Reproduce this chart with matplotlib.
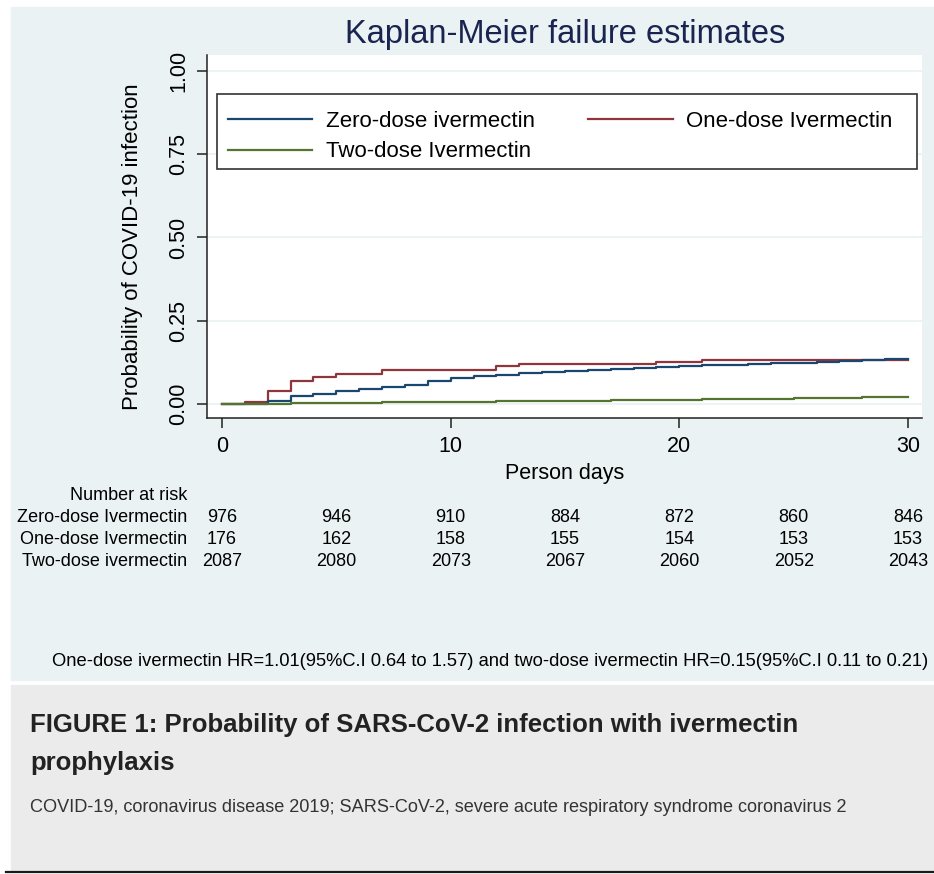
"""Kaplan-Meier failure estimates by ivermectin dose."""
import matplotlib
matplotlib.use("agg")
import matplotlib.pyplot as plt
from matplotlib.patches import Rectangle
from matplotlib.lines import Line2D
from matplotlib.transforms import blended_transform_factory

plt.rcParams["font.family"] = ["Liberation Sans", "DejaVu Sans"]

# cumulative failure probability, value held from day d to d+1
days = list(range(31))
zero_dose = [0, 0, 0.008, 0.023, 0.031, 0.038, 0.045, 0.052, 0.057, 0.068,
             0.077, 0.083, 0.088, 0.092, 0.096, 0.099, 0.102, 0.104, 0.107,
             0.110, 0.113, 0.116, 0.118, 0.120, 0.122, 0.124, 0.127, 0.129,
             0.131, 0.134, 0.134]
one_dose = [0, 0.006, 0.040, 0.068, 0.080, 0.091, 0.091, 0.102, 0.102, 0.102,
            0.102, 0.102, 0.114, 0.119, 0.119, 0.119, 0.119, 0.119, 0.119,
            0.125, 0.125, 0.131, 0.131, 0.131, 0.131, 0.131, 0.131, 0.131,
            0.131, 0.131, 0.131]
two_dose = [0, 0, 0.001, 0.002, 0.003, 0.0035, 0.004, 0.005, 0.005, 0.006,
            0.007, 0.007, 0.008, 0.009, 0.009, 0.010, 0.010, 0.011, 0.012,
            0.013, 0.013, 0.014, 0.015, 0.015, 0.016, 0.017, 0.018, 0.019,
            0.020, 0.021, 0.022]

risk_days = [0, 5, 10, 15, 20, 25, 30]
risk_labels = ["Zero-dose Ivermectin", "One-dose Ivermectin", "Two-dose ivermectin"]
risk_zero = [976, 946, 910, 884, 872, 860, 846]
risk_one = [176, 162, 158, 155, 154, 153, 153]
risk_two = [2087, 2080, 2073, 2067, 2060, 2052, 2043]

hr_note = ("One-dose ivermectin HR=1.01(95%C.I 0.64 to 1.57) and two-dose "
           "ivermectin HR=0.15(95%C.I 0.11 to 0.21)")
caption = ["FIGURE 1: Probability of SARS-CoV-2 infection with ivermectin",
           "prophylaxis"]
subcaption = ("COVID-19, coronavirus disease 2019; SARS-CoV-2, severe acute "
              "respiratory syndrome coronavirus 2")

W, H = 934, 874


def fx(x):
    return x / W


def fy(y):
    return 1 - y / H


fig = plt.figure(figsize=(W / 100, H / 100), dpi=100)
fig.patch.set_facecolor("white")
fig.patches.append(Rectangle((fx(11), fy(680)), fx(934) - fx(11), fy(7) - fy(680),
                             transform=fig.transFigure, color="#eaf2f3", zorder=-10))
fig.patches.append(Rectangle((fx(11), fy(871)), fx(934) - fx(11), fy(685) - fy(871),
                             transform=fig.transFigure, color="#ebebeb", zorder=-10))
fig.lines.append(Line2D([fx(6), 1], [fy(872), fy(872)], transform=fig.transFigure,
                        color="#1a1a1a", lw=1.6))

# plot region: x 207..922 px, y 55..418 px
ax = fig.add_axes([fx(207), fy(418), fx(922) - fx(207), fy(55) - fy(418)])
ax.set_facecolor("white")
ax.plot(days, zero_dose, drawstyle="steps-post", color="#1a476f", lw=1.6,
        label="Zero-dose ivermectin", zorder=3)
ax.plot(days, one_dose, drawstyle="steps-post", color="#90353b", lw=1.6,
        label="One-dose Ivermectin", zorder=2)
ax.plot(days, two_dose, drawstyle="steps-post", color="#55752f", lw=1.6,
        label="Two-dose Ivermectin", zorder=3)

ax.set_xlim(-0.656, 30.61)
ax.set_ylim(-0.042, 1.048)
ax.set_xticks([0, 10, 20, 30])
ax.set_yticks([0, 0.25, 0.5, 0.75, 1.0])
ax.set_yticklabels(["0.00", "0.25", "0.50", "0.75", "1.00"], rotation=90, va="center")
ax.yaxis.grid(True, color="#eaf2f3", lw=1.3)
ax.set_axisbelow(True)
for s in ["top", "right"]:
    ax.spines[s].set_visible(False)
for s in ["left", "bottom"]:
    ax.spines[s].set_color("#222222")
    ax.spines[s].set_linewidth(1.1)
ax.tick_params(axis="both", labelsize=15.5, length=7, width=1.1, color="#222222",
               pad=6)
ax.set_xlabel("Person days", fontsize=15.5, labelpad=4)
ax.set_ylabel("Probability of COVID-19 infection", fontsize=16)
ax.yaxis.set_label_coords(-(207 - 143) / 715, 1 - (247 - 55) / 363)


def ax_x(px):
    return (px - 207) / 715


def ax_y(py):
    return 1 - (py - 55) / 363


# legend frame drawn separately so the rows can sit where they are in the original
ax.add_patch(Rectangle((ax_x(217), ax_y(169)), ax_x(917) - ax_x(217),
                       ax_y(94) - ax_y(169), transform=ax.transAxes,
                       facecolor="white", edgecolor="#333333", lw=1.2, zorder=4))
h, l = ax.get_legend_handles_labels()
leg = ax.legend([h[0], h[2], h[1]], [l[0], l[2], l[1]], ncol=2, fontsize=16,
                loc="upper left", bbox_to_anchor=(ax_x(228), ax_y(111)),
                frameon=False, handlelength=3.8, handletextpad=0.6,
                labelspacing=0.42, borderpad=0, borderaxespad=0,
                columnspacing=2.4)
leg.set_zorder(5)

fig.text(fx(565), fy(35), "Kaplan-Meier failure estimates", ha="center",
         va="center", fontsize=23.5, color="#1a2450")

tr = blended_transform_factory(ax.transData, fig.transFigure)
fig.text(fx(187), fy(496), "Number at risk", ha="right", va="center", fontsize=13)
for row, (lab, vals) in enumerate(zip(risk_labels, [risk_zero, risk_one, risk_two])):
    yy = fy(518 + row * 21.5)
    fig.text(fx(187), yy, lab, ha="right", va="center", fontsize=13)
    for d, v in zip(risk_days, vals):
        ax.text(d, yy, str(v), transform=tr, ha="center", va="center",
                fontsize=13, clip_on=False)

fig.text(fx(928), fy(661), hr_note, ha="right", va="center", fontsize=13.2)

fig.text(fx(30), fy(725), caption[0], ha="left", va="center", fontsize=18.5,
         weight="bold", color="#222222")
fig.text(fx(30), fy(763), caption[1], ha="left", va="center", fontsize=18.5,
         weight="bold", color="#222222")
fig.text(fx(30), fy(808), subcaption, ha="left", va="center", fontsize=13.1,
         color="#333333")

fig.savefig("out.png", dpi=100)
plt.close(fig)
